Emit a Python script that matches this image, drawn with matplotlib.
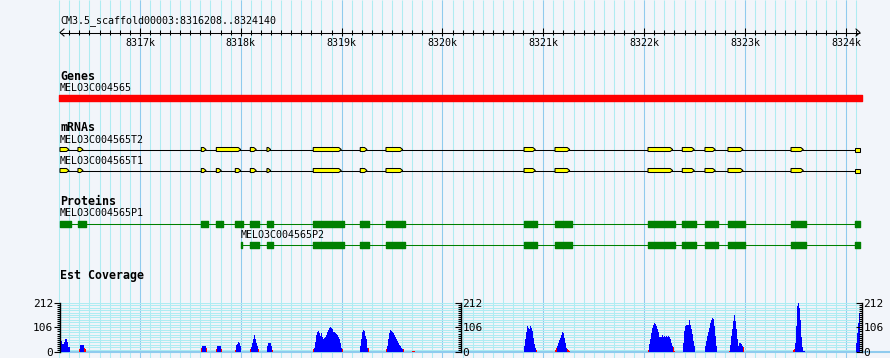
import numpy as np
import matplotlib.pyplot as plt
from matplotlib.patches import Polygon
from matplotlib.ticker import FixedLocator

plt.rcParams['font.family'] = ['DejaVu Sans Mono']

# ---- data ----
ref_name = "CM3.5_scaffold00003"
ref_start, ref_end = 8316208, 8324140

gene_name = "MELO3C004565"

t2_name = "MELO3C004565T2"
t2_starts = [8316208, 8316386, 8317609, 8317758, 8318095, 8318260, 8318719, 8319185, 8319440,
             8320809, 8321116, 8322038, 8322378, 8322603, 8322831, 8323456, 8324090]
t2_ends = [8316297, 8316436, 8317656, 8318000, 8318154, 8318297, 8318997, 8319252, 8319606,
           8320921, 8321262, 8322283, 8322497, 8322705, 8322980, 8323578, 8324140]

t1_name = "MELO3C004565T1"
t1_starts = [8316208, 8316386, 8317609, 8317758, 8317946, 8318095, 8318260, 8318719, 8319185,
             8319440, 8320809, 8321116, 8322038, 8322378, 8322603, 8322831, 8323456, 8324090]
t1_ends = [8316297, 8316436, 8317656, 8317807, 8318000, 8318154, 8318297, 8318997, 8319252,
           8319606, 8320921, 8321262, 8322283, 8322497, 8322705, 8322980, 8323578, 8324140]

p1_name = "MELO3C004565P1"
p1_starts = [8316208, 8316386, 8317606, 8317755, 8317943, 8318092, 8318260, 8318717, 8319183,
             8319440, 8320809, 8321116, 8322038, 8322375, 8322603, 8322831, 8323456, 8324090]
p1_ends = [8316317, 8316466, 8317675, 8317824, 8318020, 8318181, 8318320, 8319024, 8319272,
           8319629, 8320938, 8321285, 8322306, 8322514, 8322732, 8323000, 8323605, 8324140]

p2_name = "MELO3C004565P2"
p2_first = 8318003
p2_starts = [8318003, 8318092, 8318260, 8318717, 8319183, 8319440, 8320809, 8321116, 8322038,
             8322375, 8322603, 8322831, 8323456, 8324090]
p2_ends = [8318012, 8318181, 8318320, 8319024, 8319272, 8319629, 8320938, 8321285, 8322306,
           8322514, 8322732, 8323000, 8323605, 8324140]

# EST coverage, 10 bp bins starting at each peak start
est_max = 212
est_ticks = [0, 106, 212]
est_bin = 10
est_starts = [8316208, 8316406, 8317616, 8317765, 8317953, 8318102, 8318260, 8318726, 8319183,
              8319450, 8320809, 8321136, 8322048, 8322385, 8322603, 8322851, 8323495, 8324100]
est_values = [
    [47, 47, 33, 33, 43, 55, 55, 45, 22, 22],
    [28, 30, 30, 30],
    [26, 26, 26, 26],
    [26, 26, 26, 26],
    [29, 36, 43, 39, 26],
    [23, 40, 55, 74, 58, 40, 26],
    [26, 39, 39, 39, 26],
    [19, 43, 73, 84, 92, 81, 69, 81, 66, 58, 59, 66, 74, 84, 95, 103, 108, 103, 98, 87,
     84, 81, 78, 74, 66, 55, 38, 19],
    [26, 55, 84, 95, 90, 69, 55, 19],
    [26, 55, 81, 95, 92, 84, 81, 74, 66, 58, 48, 40, 29, 26, 19, 12],
    [26, 55, 88, 112, 105, 98, 110, 105, 91, 62, 33, 19],
    [26, 40, 52, 62, 72, 84, 80, 62, 40, 19],
    [33, 55, 81, 103, 115, 124, 120, 110, 98, 84, 66, 64, 66, 74, 66, 69, 64, 69, 66, 69,
     64, 55, 40, 26],
    [40, 91, 112, 118, 118, 115, 138, 115, 98, 77, 48, 26],
    [26, 48, 69, 88, 105, 124, 138, 146, 142, 112, 69, 26],
    [29, 69, 98, 133, 160, 133, 98, 55, 26, 40, 40, 36, 26],
    [38, 110, 196, 211, 189, 138, 66, 20, 6, 6],
    [38, 81, 124, 167],
]
# low-coverage flanks (red)
est_low_pos = [8316396, 8316446, 8316456, 8317606, 8317656, 8317755, 8317804, 8317943, 8318092,
               8318171, 8318310, 8318717, 8319004, 8319262, 8319440, 8319609, 8319698, 8319708,
               8319718, 8320928, 8321116, 8321126, 8321235, 8321245, 8321255, 8322038, 8322286,
               8322296, 8322841, 8322980, 8323476, 8323486]
est_low_val = [15, 16, 13, 16, 16, 13, 14, 10, 12, 13, 10, 14, 14, 19, 13, 14, 4, 4, 4, 9, 9, 19,
               14, 9, 4, 9, 23, 4, 4, 23, 9, 14]

# ---- layout (pixels) ----
W, H = 890, 358
bp_px = (ref_end - ref_start) / 800.0
x0 = ref_start - 60 * bp_px
x1 = x0 + W * bp_px

bg = "#F2F5FA"
minor_c = "#AEECF2"
major_c = "#8FCBEE"
lw1 = 0.75

fig = plt.figure(figsize=(W / 100, H / 100), dpi=100)
fig.patch.set_facecolor(bg)
ax = fig.add_axes([0, 0, 1, 1])
ax.set_xlim(x0, x1)
ax.set_ylim(H, 0)
ax.axis('off')

# vertical grid
grid_minor = np.arange(8316200, ref_end, 100)
grid_major = np.arange(8317000, ref_end, 1000)
ax.vlines(grid_minor, 0, H, color=minor_c, lw=lw1, zorder=0)
ax.vlines(grid_major, 0, H, color=major_c, lw=lw1, zorder=0.5)

# ruler
ax.text(ref_start, 21, f"{ref_name}:{ref_start}..{ref_end}", fontsize=7.2, va='center', ha='left')
ry = 32.5
ax.hlines(ry, ref_start, ref_end, color='k', lw=lw1, zorder=3)
ax.vlines(np.arange(8316300, ref_end, 100), ry - 3, ry + 2, color='k', lw=lw1, zorder=3)
ax.vlines(grid_major, ry - 5, ry + 3.5, color='k', lw=lw1, zorder=3)
a = 4 * bp_px
ax.plot([ref_start + a, ref_start, ref_start + a], [ry - 3.5, ry, ry + 3.5], color='k', lw=lw1, zorder=3)
ax.plot([ref_end - a, ref_end, ref_end - a], [ry - 3.5, ry, ry + 3.5], color='k', lw=lw1, zorder=3)
for m in grid_major:
    ax.text(m, 42.5, f"{m // 1000}k", fontsize=7.2, ha='center', va='center')

# Genes
ax.text(ref_start, 76, "Genes", fontsize=8.4, fontweight='bold', va='center')
ax.text(ref_start, 88, gene_name, fontsize=7.2, va='center')
ax.broken_barh([(ref_start - bp_px, ref_end - ref_start + 2.5 * bp_px)], (95.3, 5.4), color='#FF0000', zorder=3)

# mRNAs
ax.text(ref_start, 127.5, "mRNAs", fontsize=8.4, fontweight='bold', va='center')


def draw_mrna(y, name, starts, ends):
    ax.text(ref_start, y - 9.5, name, fontsize=7.2, va='center')
    ax.hlines(y, ref_start, ref_end, color='k', lw=lw1, zorder=2)
    tip = 2.5 * bp_px
    for s, e in zip(starts, ends):
        if e >= ref_end:
            pts = [(s, y - 2), (e, y - 2), (e, y + 2), (s, y + 2)]
        else:
            pts = [(s, y - 2), (e - tip, y - 2), (e, y), (e - tip, y + 2), (s, y + 2)]
        ax.add_patch(Polygon(pts, closed=True, fc='#FFFF00', ec='k', lw=lw1, zorder=3))


draw_mrna(149.5, t2_name, t2_starts, t2_ends)
draw_mrna(170.5, t1_name, t1_starts, t1_ends)

# Proteins
ax.text(ref_start, 201.7, "Proteins", fontsize=8.4, fontweight='bold', va='center')


def draw_protein(y, name, first, starts, ends):
    ax.text(first, y - 10, name, fontsize=7.2, va='center')
    ax.hlines(y, first, ref_end, color='#008000', lw=lw1, zorder=2)
    ax.broken_barh([(s, e - s) for s, e in zip(starts, ends)], (y - 2.8, 6), color='#008000', zorder=3)


draw_protein(223.5, p1_name, ref_start, p1_starts, p1_ends)
draw_protein(244.5, p2_name, p2_first, p2_starts, p2_ends)

# EST coverage
ax.text(ref_start, 276, "Est Coverage", fontsize=8.4, fontweight='bold', va='center')

cov_rect = [0, (H - 352) / H, 1, (352 - 302.7) / H]
axc = fig.add_axes(cov_rect)
axc.set_xlim(x0, x1)
axc.set_ylim(0, est_max)
axc.patch.set_visible(False)
axc.hlines(np.linspace(0, est_max, 21), ref_start, ref_end, color=minor_c, lw=lw1, zorder=0)
axc.hlines(0, ref_start, x1, color=major_c, lw=1.5, zorder=0.5, clip_on=False)
for s, vals in zip(est_starts, est_values):
    edges = s + np.arange(len(vals) + 1) * est_bin
    axc.stairs(vals, edges, fill=True, color='#0000FF', lw=0, zorder=2)
axc.bar(est_low_pos, est_low_val, width=est_bin, align='edge', color='#FF0000', lw=0, zorder=2)


def style_scale(a, side, xpos, direction):
    for k, sp in a.spines.items():
        sp.set_visible(k == side)
    a.spines[side].set_position(('data', xpos))
    a.spines[side].set_bounds(0, est_max)
    a.spines[side].set_linewidth(1.0)
    a.xaxis.set_visible(False)
    if side == 'right':
        a.yaxis.tick_right()
    a.yaxis.set_major_locator(FixedLocator(est_ticks))
    a.yaxis.set_minor_locator(FixedLocator(np.linspace(0, est_max, 25)))
    a.tick_params(axis='y', which='major', direction=direction, length=4, width=0.8,
                  labelsize=8, pad=1)
    a.tick_params(axis='y', which='minor', direction=direction, length=2.2, width=0.8)


style_scale(axc, 'left', ref_start, 'out')
for xs in (x0 + 461.2 * bp_px, x0 + 862 * bp_px):
    axs = fig.add_axes(cov_rect)
    axs.set_xlim(x0, x1)
    axs.set_ylim(0, est_max)
    axs.patch.set_visible(False)
    style_scale(axs, 'right', xs, 'in')

fig.savefig('out.png', dpi=100, facecolor=bg)
